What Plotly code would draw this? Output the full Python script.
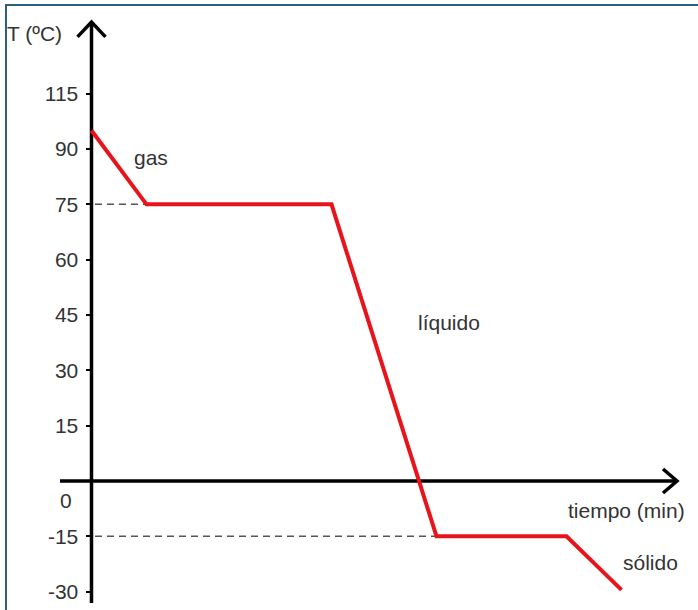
import plotly.graph_objects as go

# ---- data ----
time_min = [0, 5.5, 24, 34.5, 47.5, 53]
temp_c = [95, 75, 75, -15, -15, -29.5]

tick_vals = [105, 90, 75, 60, 45, 30, 15, -15, -30]
tick_text = ["115", "90", "75", "60", "45", "30", "15", "-15", "-30"]

plateau_temps = [75, -15]
plateau_ends = [5.5, 34.5]

phase_labels = ["gas", "líquido", "sólido"]
phase_x = [5.95, 35.75, 55.85]
phase_y = [87.8, 43.1, -22.0]

# ---- axis geometry ----
X_RANGE = [-9.15, 60.65]
Y_RANGE = [-34.97, 130.39]
Y_AXIS_TOP, Y_AXIS_BOTTOM = 124.4, -33.1
X_AXIS_LEFT, X_AXIS_RIGHT = -3.15, 58.55

TXT = dict(family="Liberation Sans, Arial, sans-serif", size=21, color="#333333")

fig = go.Figure()

# dashed guide lines
for T, xe in zip(plateau_temps, plateau_ends):
    fig.add_trace(go.Scatter(x=[0.35, xe], y=[T, T], mode="lines",
                             line=dict(color="#555555", width=1.5, dash="7px,5px"),
                             hoverinfo="skip", showlegend=False))

# axes lines
fig.add_trace(go.Scatter(x=[0, 0], y=[Y_AXIS_BOTTOM, Y_AXIS_TOP], mode="lines",
                         line=dict(color="black", width=3.5), showlegend=False, hoverinfo="skip"))
fig.add_trace(go.Scatter(x=[X_AXIS_LEFT, X_AXIS_RIGHT], y=[0, 0], mode="lines",
                         line=dict(color="black", width=3.5), showlegend=False, hoverinfo="skip"))
# arrow chevrons
fig.add_trace(go.Scatter(x=[-1.4, 0, 1.4], y=[Y_AXIS_TOP - 4.0, Y_AXIS_TOP, Y_AXIS_TOP - 4.0],
                         mode="lines", line=dict(color="black", width=3.5),
                         showlegend=False, hoverinfo="skip"))
fig.add_trace(go.Scatter(x=[X_AXIS_RIGHT - 1.4, X_AXIS_RIGHT, X_AXIS_RIGHT - 1.4], y=[3.25, 0, -3.25],
                         mode="lines", line=dict(color="black", width=3.5),
                         showlegend=False, hoverinfo="skip"))

# cooling curve
fig.add_trace(go.Scatter(x=time_min, y=temp_c, mode="lines",
                         line=dict(color="#e8141b", width=4), showlegend=False))

annotations = []
for lab, x, y in zip(phase_labels, phase_x, phase_y):
    annotations.append(dict(x=x, y=y, text=lab, showarrow=False, font=TXT,
                            xref="x", yref="y"))
annotations.append(dict(x=53.45, y=-8.1, text="tiempo (min)", showarrow=False, font=TXT))
annotations.append(dict(x=-5.75, y=121.4, text="T (ºC)", showarrow=False, font=TXT))
annotations.append(dict(x=-2.55, y=-5.4, text="0", showarrow=False, font=TXT))

fig.update_layout(
    width=698, height=610,
    margin=dict(l=0, r=0, t=0, b=0),
    paper_bgcolor="white", plot_bgcolor="white",
    xaxis=dict(range=X_RANGE, visible=False, fixedrange=True),
    yaxis=dict(range=Y_RANGE, anchor="free", position=91.5 / 698,
               showline=False, showgrid=False, zeroline=False,
               ticks="outside", ticklen=6, tickwidth=1.5, tickcolor="black",
               tickvals=tick_vals, ticktext=tick_text, tickfont=TXT,
               ticklabelstandoff=3, fixedrange=True),
    annotations=annotations,
    shapes=[
        dict(type="line", xref="paper", yref="paper", x0=5 / 698, x1=1,
             y0=1 - 5 / 610, y1=1 - 5 / 610, line=dict(color="#2f5f80", width=2)),
        dict(type="line", xref="paper", yref="paper", x0=6 / 698, x1=6 / 698,
             y0=0, y1=1 - 5 / 610, line=dict(color="#2f5f80", width=2)),
    ],
)

fig.write_html("out.html", post_script="document.body.style.margin='0';",
               config={"displayModeBar": False})
